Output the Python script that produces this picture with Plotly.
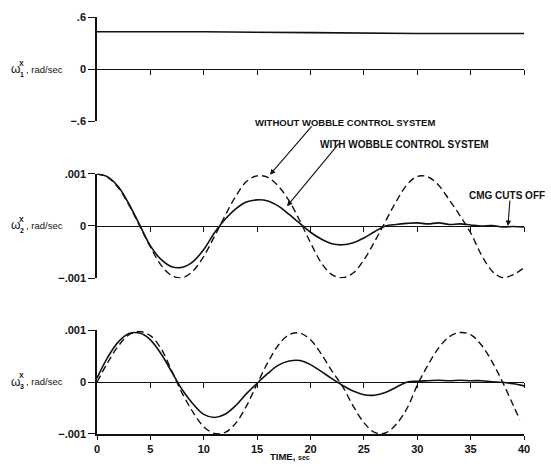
import plotly.graph_objects as go

# ---------------- data ----------------
time_s = list(range(41))

# panel 1: omega_1^X, rad/sec
w1_time = [0, 10, 20, 30, 40]
w1_value = [0.43, 0.43, 0.42, 0.41, 0.41]

# panel 2: omega_2^X, units of 0.001 rad/sec
w2_without = [1.00, 0.93, 0.73, 0.40, 0.00, -0.40, -0.75, -0.95, -0.99, -0.86,
              -0.58, -0.20, 0.20, 0.57, 0.85, 0.96, 0.93, 0.76, 0.48, 0.10,
              -0.32, -0.70, -0.93, -0.99, -0.90, -0.65, -0.30, 0.08, 0.46, 0.78,
              0.95, 0.94, 0.78, 0.50, 0.20, -0.13, -0.55, -0.86, -0.99, -0.93,
              -0.80]
w2_with = [1.00, 0.94, 0.75, 0.42, 0.02, -0.38, -0.64, -0.78, -0.79, -0.68,
           -0.45, -0.13, 0.13, 0.33, 0.46, 0.50, 0.48, 0.38, 0.22, 0.05,
           -0.12, -0.25, -0.34, -0.36, -0.32, -0.23, -0.11, 0.00, 0.03, 0.05,
           0.06, 0.04, 0.06, 0.03, 0.04, 0.02, 0.00, 0.01, -0.02, -0.01,
           -0.02]

# panel 3: omega_3^X, units of 0.001 rad/sec
w3_without_time = list(range(40)) + [39.6]
w3_without = [0.00, 0.38, 0.70, 0.92, 0.98, 0.90, 0.65, 0.22, -0.22, -0.58,
              -0.86, -0.99, -0.97, -0.79, -0.46, -0.03, 0.38, 0.72, 0.92, 0.95,
              0.82, 0.55, 0.22, -0.08, -0.46, -0.78, -0.97, -0.98, -0.82, -0.52,
              -0.06, 0.33, 0.66, 0.88, 0.96, 0.92, 0.72, 0.40, 0.00, -0.45,
              -0.72]
w3_with = [0.08, 0.48, 0.78, 0.94, 0.95, 0.82, 0.55, 0.20, -0.15, -0.42,
           -0.62, -0.68, -0.62, -0.45, -0.22, -0.02, 0.17, 0.33, 0.41, 0.42,
           0.34, 0.21, 0.07, -0.06, -0.17, -0.24, -0.25, -0.20, -0.10, 0.00,
           0.02, 0.03, 0.04, 0.03, 0.04, 0.03, 0.03, 0.01, 0.00, -0.03,
           -0.07]

x_ticks = [0, 5, 10, 15, 20, 25, 30, 35, 40]
y1_ticks = [-0.6, 0, 0.6]
y1_labels = ["\u2212.6", "0", ".6"]
y23_ticks = [-0.001, 0, 0.001]
y23_labels = ["\u2212.001", "0", ".001"]
scale = 0.001

# ---------------- layout geometry ----------------
W, H = 551, 473
ML, MR, MT, MB = 97, 27, 11, 39
PW, PH = W - ML - MR, H - MT - MB


def px(x):
    return (x - ML) / PW


def py(y):
    return (H - MB - y) / PH


dom1 = [py(117), py(11)]
dom2 = [py(276), py(170)]
dom3 = [py(434), py(329)]

FONT = "Liberation Sans"
black = "#111111"

fig = go.Figure()
fig.add_trace(go.Scatter(x=w1_time, y=w1_value, xaxis="x", yaxis="y",
                         mode="lines", line=dict(color=black, width=1.6)))
fig.add_trace(go.Scatter(x=time_s, y=[v * scale for v in w2_without], xaxis="x", yaxis="y2",
                         mode="lines", line=dict(color=black, width=1.4, dash="7px,4px", shape="spline")))
fig.add_trace(go.Scatter(x=time_s, y=[v * scale for v in w2_with], xaxis="x", yaxis="y2",
                         mode="lines", line=dict(color=black, width=1.6, shape="spline")))
fig.add_trace(go.Scatter(x=w3_without_time, y=[v * scale for v in w3_without], xaxis="x", yaxis="y3",
                         mode="lines", line=dict(color=black, width=1.4, dash="7px,4px", shape="spline")))
fig.add_trace(go.Scatter(x=time_s, y=[v * scale for v in w3_with], xaxis="x", yaxis="y3",
                         mode="lines", line=dict(color=black, width=1.6, shape="spline")))

# invisible carriers so the zero-line axes (with their ticks) get drawn
for xa, ya in (("x2", "y"), ("x3", "y2"), ("x4", "y3")):
    fig.add_trace(go.Scatter(x=[0, 40], y=[0, 0], xaxis=xa, yaxis=ya, mode="lines",
                             line=dict(width=0, color="rgba(0,0,0,0)"), hoverinfo="skip"))

tickfont = dict(family=FONT, size=11, color=black, weight="bold")
yax = dict(showline=True, linecolor=black, linewidth=1.5, ticks="outside", ticklen=7,
           tickwidth=1.3, tickcolor=black, showgrid=False, zeroline=False,
           tickfont=tickfont, anchor="x", fixedrange=True)

zero_ax = dict(overlaying="x", anchor="free", range=[0, 40], showline=True, linecolor=black,
               linewidth=1.4, ticks="outside", ticklen=5, tickwidth=1.3, tickcolor=black,
               tickvals=x_ticks[1:], showticklabels=False, showgrid=False, zeroline=False)

fig.update_layout(
    width=W, height=H, margin=dict(l=ML, r=MR, t=MT, b=MB),
    paper_bgcolor="white", plot_bgcolor="white", showlegend=False,
    xaxis=dict(domain=[0, 1], range=[0, 40], anchor="y3", showline=True, linecolor=black,
               linewidth=1.5, ticks="outside", ticklen=4, tickwidth=1.3, tickcolor=black,
               tickvals=x_ticks, ticktext=[str(v) for v in x_ticks], tickfont=tickfont,
               showgrid=False, zeroline=False),
    xaxis2=dict(zero_ax, position=(dom1[0] + dom1[1]) / 2),
    xaxis3=dict(zero_ax, position=(dom2[0] + dom2[1]) / 2),
    xaxis4=dict(zero_ax, position=(dom3[0] + dom3[1]) / 2),
    yaxis=dict(yax, domain=dom1, range=[-0.6, 0.6], tickvals=y1_ticks, ticktext=y1_labels),
    yaxis2=dict(yax, domain=dom2, range=[-0.001, 0.001], tickvals=y23_ticks, ticktext=y23_labels),
    yaxis3=dict(yax, domain=dom3, range=[-0.001, 0.001], tickvals=y23_ticks, ticktext=y23_labels),
)

ann = []
# y-axis titles: omega with stacked superscript X and subscript index
for idx, ypix in (("1", 64), ("2", 222), ("3", 381)):
    yc = py(ypix)
    ann.append(dict(text="\u03c9", x=px(15), y=yc, xref="paper", yref="paper", showarrow=False,
                    xanchor="center", yanchor="middle", font=dict(family=FONT, size=12, color=black)))
    ann.append(dict(text="X", x=px(21.5), y=yc, yshift=6, xref="paper", yref="paper", showarrow=False,
                    xanchor="center", yanchor="middle", font=dict(family=FONT, size=7, color=black, weight="bold")))
    ann.append(dict(text=idx, x=px(21.5), y=yc, yshift=-5, xref="paper", yref="paper", showarrow=False,
                    xanchor="center", yanchor="middle", font=dict(family=FONT, size=7, color=black, weight="bold")))
    ann.append(dict(text=", rad/sec", x=px(24), y=yc, xref="paper", yref="paper", showarrow=False,
                    xanchor="left", yanchor="middle", font=dict(family=FONT, size=9.5, color=black)))

ann.append(dict(text="WITHOUT WOBBLE CONTROL SYSTEM", x=px(345), y=py(118), xref="paper", yref="paper",
                showarrow=False, xanchor="center", yanchor="middle",
                font=dict(family=FONT, size=9.5, color=black, weight="bold")))
ann.append(dict(text="WITH WOBBLE CONTROL SYSTEM", x=px(404), y=py(140), xref="paper", yref="paper",
                showarrow=False, xanchor="center", yanchor="middle",
                font=dict(family=FONT, size=10, color=black, weight="bold")))
ann.append(dict(text="CMG CUTS OFF", x=px(507), y=py(192), xref="paper", yref="paper",
                showarrow=False, xanchor="center", yanchor="middle",
                font=dict(family=FONT, size=10, color=black, weight="bold")))

arrow = dict(text="", showarrow=True, arrowhead=2, arrowsize=1, arrowwidth=1.1, arrowcolor=black,
             xref="x", yref="y2", standoff=0)
ann.append(dict(arrow, x=16.2, y=0.00098, ax=43, ay=-50))
ann.append(dict(arrow, x=17.8, y=0.00038, ax=53, ay=-64))
ann.append(dict(arrow, x=38.5, y=0.0, ax=2, ay=-27))

ann.append(dict(text="TIME, <span style='font-size:7px'>sec</span>", x=px(290), y=py(457),
                xref="paper", yref="paper", showarrow=False, xanchor="center", yanchor="middle",
                font=dict(family=FONT, size=9.5, color=black, weight="bold")))

fig.update_layout(annotations=ann)
fig.write_html("out.html")
